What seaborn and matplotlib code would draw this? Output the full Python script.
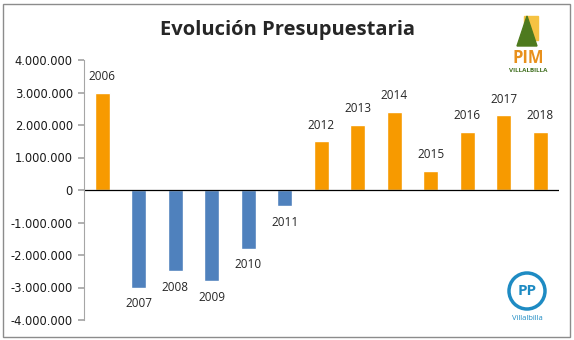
import matplotlib
matplotlib.use("Agg")
import matplotlib.pyplot as plt
import matplotlib.patches as mpatches
import seaborn as sns
import pandas as pd

years = ["2006", "2007", "2008", "2009", "2010", "2011", "2012",
         "2013", "2014", "2015", "2016", "2017", "2018"]
values = [3000000, -3000000, -2500000, -2800000, -1800000, -500000, 1500000,
          2000000, 2400000, 600000, 1800000, 2300000, 1800000]
yticks = [4000000, 3000000, 2000000, 1000000, 0, -1000000, -2000000, -3000000, -4000000]
title = "Evolución Presupuestaria"

sns.set_theme(style="white")
plt.rcParams['font.family'] = ['Open Sans', 'DejaVu Sans']

df = pd.DataFrame({"year": years, "value": values})
df["sign"] = ["pos" if v >= 0 else "neg" for v in values]

fig = plt.figure(figsize=(5.74, 3.40), dpi=100)
ax = fig.add_axes([84/574, 20/340, 474.5/574, 260/340])

sns.barplot(data=df, x="year", y="value", hue="sign",
            palette={"pos": "#F79A00", "neg": "#4F81BD"},
            width=0.42, dodge=False, legend=False, ax=ax, saturation=1)

ax.set_ylim(-4000000, 4000000)
ax.set_xlim(-0.5, len(years) - 0.5)
ax.set_yticks(yticks)
ax.set_yticklabels(["{:,}".format(t).replace(",", ".") for t in yticks],
                   fontsize=8.3, family="DejaVu Sans")
ax.set_xticks([])
ax.set_xlabel("")
ax.set_ylabel("")
for s in ["top", "right", "bottom"]:
    ax.spines[s].set_visible(False)
ax.spines["left"].set_color("#A6A6A6")
ax.spines["left"].set_linewidth(0.8)
ax.tick_params(axis="y", which="both", left=True, length=4, color="#A6A6A6", pad=4, labelcolor="#1a1a1a")
ax.axhline(0, color="black", lw=0.9)

for i, (yr, v) in enumerate(zip(years, values)):
    if v >= 0:
        ax.annotate(yr, (i, v), xytext=(0, 7), textcoords="offset points",
                    ha="center", va="bottom", fontsize=8.5)
    else:
        ax.annotate(yr, (i, v), xytext=(0, -7), textcoords="offset points",
                    ha="center", va="top", fontsize=8.5)

fig.text(287/574, 1 - 30/340, title, ha="center", va="center",
         fontsize=14.5, fontweight="bold")

# figure border
fig.patches.append(mpatches.Rectangle((3/574, 3/340), 567/574, 333/340,
                                      transform=fig.transFigure, fill=False,
                                      edgecolor="#8C8C8C", lw=1))

# PIM logo (approximation)
fig.patches.append(mpatches.Rectangle((524/574, 1 - 40/340), 14/574, 24/340,
                                      transform=fig.transFigure, color="#F5C242", zorder=1))
fig.patches.append(mpatches.Polygon([(527/574, 1 - 16/340), (517/574, 1 - 46/340), (537/574, 1 - 46/340)],
                                    transform=fig.transFigure, color="#4E7A1E", zorder=2))
fig.text(528/574, 1 - 58/340, "PIM", ha="center", va="center", fontsize=12,
         fontweight="bold", color="#E8901C")
fig.text(528/574, 1 - 70/340, "VILLALBILLA", ha="center", va="center", fontsize=4.5,
         fontweight="bold", color="#3F6E1E")

# PP logo (approximation)
fig.patches.append(mpatches.Ellipse((527/574, 1 - 291/340), 36/574, 36/340, transform=fig.transFigure,
                                    fill=False, edgecolor="#1E8BC3", lw=2.5))
fig.text(527/574, 1 - 291/340, "PP", ha="center", va="center", fontsize=11,
         fontweight="bold", color="#1E8BC3")
fig.text(527/574, 1 - 318/340, "Villalbilla", ha="center", va="center", fontsize=5.5,
         color="#1E8BC3")

fig.savefig("out.png", dpi=100)
